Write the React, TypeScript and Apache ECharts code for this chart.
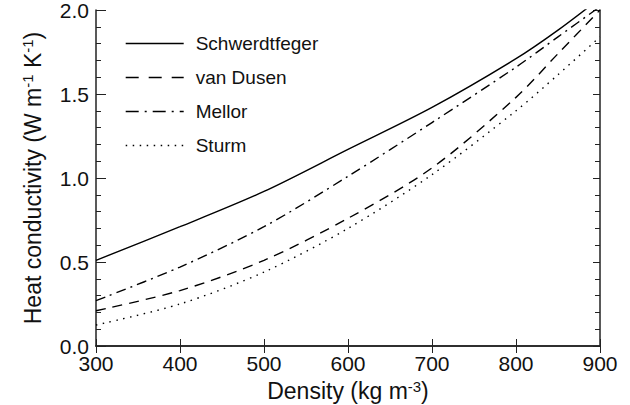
import React, { useEffect, useRef } from "react";
import * as echarts from "echarts";

const density = [300, 400, 500, 600, 700, 800, 850, 900];
const schwerdtfeger = [0.51, 0.71, 0.92, 1.17, 1.42, 1.71, 1.88, 2.07];
const vanDusen = [0.21, 0.33, 0.51, 0.76, 1.06, 1.48, 1.74, 2.0];
const mellor = [0.27, 0.47, 0.71, 1.01, 1.33, 1.66, 1.84, 2.02];
const sturm = [0.125, 0.25, 0.44, 0.7, 1.02, 1.4, 1.615, 1.84];
const seriesNames = ["Schwerdtfeger", "van Dusen", "Mellor", "Sturm"];

const FONT = "Liberation Sans";

export default function App() {
  const ref = useRef<HTMLDivElement>(null);
  useEffect(() => {
    const chart = echarts.init(ref.current!, null, { renderer: "svg" });
    const pairs = (ys: number[]) => density.map((d, i) => [d, ys[i]]);
    const dashes: any[] = ["solid", [10, 7], [10, 5, 2, 5], [1.5, 5.5]];
    const legendDashes: any[] = ["solid", [13, 10], [13, 6, 2, 6], [1.5, 5.5]];
    const all = [schwerdtfeger, vanDusen, mellor, sturm];
    const axisLine = { show: true, lineStyle: { color: "#222", width: 1.5 } };
    const titleStyle = {
      fontFamily: FONT,
      fontSize: 23,
      color: "#111",
      lineHeight: 25,
      rich: {
        sup: { fontFamily: FONT, fontSize: 15, color: "#111", verticalAlign: "top", lineHeight: 13 },
      },
    };
    chart.setOption({
      animation: false,
      grid: { left: 96, right: 30, top: 10, bottom: 59, containLabel: false, outerBoundsMode: "none" },
      legend: {
        orient: "vertical",
        left: 120,
        top: 29,
        itemWidth: 58,
        itemHeight: 14,
        itemGap: 15,
        data: seriesNames.map((name, i) => ({
          name,
          lineStyle: { type: legendDashes[i], width: 1.4, color: "#000" },
        })),
        itemStyle: { opacity: 0, borderWidth: 0 },
        textStyle: {
          fontFamily: FONT,
          fontSize: 19,
          color: "#111",
          padding: [0, 0, 0, 7],
        },
      },
      xAxis: [
        {
          type: "value",
          min: 300,
          max: 900,
          interval: 100,
          position: "bottom",
          axisLine,
          axisTick: { inside: true, length: 7, lineStyle: { color: "#222" } },
          splitLine: { show: false },
          axisLabel: { fontFamily: FONT, fontSize: 21, color: "#111", margin: 7 },
          name: "Density (kg m{sup|-3})",
          nameLocation: "middle",
          nameGap: 21,
          nameTextStyle: titleStyle,
        },
        {
          type: "value",
          min: 300,
          max: 900,
          interval: 100,
          position: "top",
          axisLine,
          axisTick: { inside: true, length: 7, lineStyle: { color: "#222" } },
          axisLabel: { show: false },
          splitLine: { show: false },
        },
      ],
      yAxis: [
        {
          type: "value",
          min: 0,
          max: 2,
          interval: 0.5,
          position: "left",
          axisLine,
          axisTick: { inside: true, length: 10, lineStyle: { color: "#222" } },
          minorTick: { show: true, splitNumber: 5, length: 5, lineStyle: { color: "#222" } },
          splitLine: { show: false },
          axisLabel: {
            fontFamily: FONT,
            fontSize: 21,
            color: "#111",
            margin: 7,
            formatter: (v: number) => v.toFixed(1),
          },
          name: "Heat conductivity (W m{sup|-1} K{sup|-1})",
          nameLocation: "middle",
          nameGap: 51,
          nameTextStyle: titleStyle,
        },
        {
          type: "value",
          min: 0,
          max: 2,
          interval: 0.5,
          position: "right",
          axisLine,
          axisTick: { inside: true, length: 7, lineStyle: { color: "#222" } },
          minorTick: { show: true, splitNumber: 5, length: 5, lineStyle: { color: "#222" } },
          splitLine: { show: false },
          axisLabel: { show: false },
        },
      ],
      series: seriesNames.map((name, i) => ({
        name,
        type: "line",
        data: pairs(all[i]),
        smooth: 0.3,
        symbol: "none",
        clip: true,
        lineStyle: { color: "#000", width: 1.4, type: dashes[i] },
        itemStyle: { color: "#000" },
      })),
    });
    return () => chart.dispose();
  }, []);
  return (
    <div
      ref={ref}
      style={{ position: "fixed", left: 0, top: 0, width: 630, height: 405, background: "#fff" }}
    />
  );
}
